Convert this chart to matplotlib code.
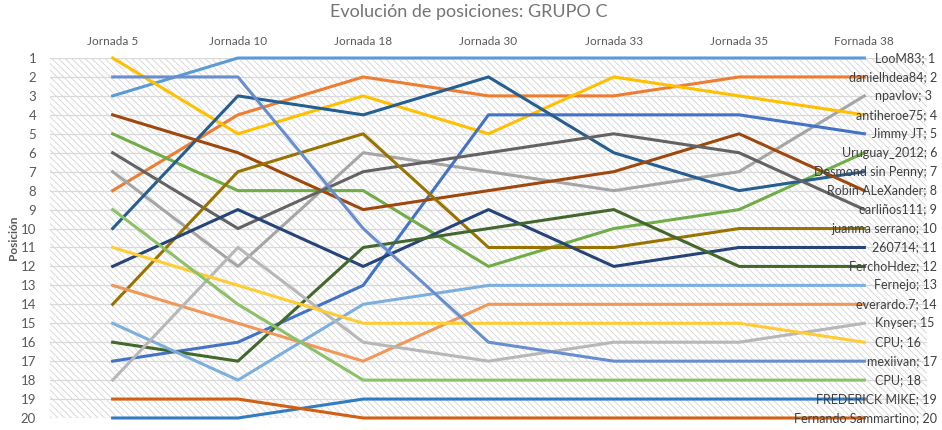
import matplotlib
matplotlib.use("Agg")
import matplotlib.pyplot as plt
import matplotlib.transforms as mtransforms
from matplotlib.patches import Rectangle

plt.rcParams['font.family'] = ['Lato', 'DejaVu Sans']
plt.rcParams['hatch.linewidth'] = 0.6

# ---------- data ----------
jornadas = ["Jornada 5", "Jornada 10", "Jornada 18", "Jornada 30",
            "Jornada 33", "Jornada 35", "Fornada 38"]

players = ["LooM83", "danielhdea84", "npavlov", "antiheroe75", "Jimmy JT",
           "Uruguay_2012", "Desmond sin Penny", "Robin ALeXander", "carliños111",
           "juanma serrano", "260714", "FerchoHdez", "Fernejo", "everardo.7",
           "Knyser", "CPU", "mexiivan", "CPU", "FREDERICK MIKE",
           "Fernando Sammartino"]

positions = [
    [3, 1, 1, 1, 1, 1, 1],
    [8, 4, 2, 3, 3, 2, 2],
    [7, 12, 6, 7, 8, 7, 3],
    [1, 5, 3, 5, 2, 3, 4],
    [17, 16, 13, 4, 4, 4, 5],
    [5, 8, 8, 12, 10, 9, 6],
    [10, 3, 4, 2, 6, 8, 7],
    [4, 6, 9, 8, 7, 5, 8],
    [6, 10, 7, 6, 5, 6, 9],
    [14, 7, 5, 11, 11, 10, 10],
    [12, 9, 12, 9, 12, 11, 11],
    [16, 17, 11, 10, 9, 12, 12],
    [15, 18, 14, 13, 13, 13, 13],
    [13, 15, 17, 14, 14, 14, 14],
    [18, 11, 16, 17, 16, 16, 15],
    [11, 13, 15, 15, 15, 15, 16],
    [2, 2, 10, 16, 17, 17, 17],
    [9, 14, 18, 18, 18, 18, 18],
    [20, 20, 19, 19, 19, 19, 19],
    [19, 19, 20, 20, 20, 20, 20],
]

colors = ["#5B9BD5", "#ED7D31", "#A5A5A5", "#FFC000", "#4472C4", "#70AD47",
          "#255E91", "#9E480E", "#636363", "#997300", "#264478", "#43682B",
          "#7CAFDD", "#F1975A", "#B7B7B7", "#FFCD33", "#698ED0", "#8CC168",
          "#327DC2", "#D26012"]

# ---------- figure ----------
W, H = 942, 430
fig = plt.figure(figsize=(W / 100, H / 100), dpi=100)
ax = fig.add_axes([50 / W, (H - 418) / H, 877 / W, 360 / H])

# hatched plot area background
ax.add_patch(Rectangle((0, 0), 1, 1, transform=ax.transAxes, facecolor="white",
                       edgecolor="#D4D4D4", hatch="\\\\\\\\\\", linewidth=0, zorder=0))

x = list(range(len(jornadas)))
for y in range(1, 21):
    ax.axhline(y, color="#D9D9D9", lw=0.9, zorder=1)

for pos, c in zip(positions, colors):
    ax.plot(x, pos, color=c, lw=2.2, zorder=3, clip_on=False)

ax.set_xlim(-0.5, len(jornadas) - 0.5)
ax.set_ylim(20, 1)
ax.set_yticks(range(1, 21))
ax.tick_params(axis="y", length=0, labelsize=9.5, labelcolor="#595959", pad=10)
ax.xaxis.tick_top()
ax.set_xticks(x)
ax.set_xticklabels(jornadas)
ax.tick_params(axis="x", length=0, labelsize=8.5, labelcolor="#595959", pad=8)
for s in ax.spines.values():
    s.set_visible(False)

ax.set_ylabel("Posición", fontsize=8.5, fontweight="bold", color="#595959")
ax.yaxis.set_label_coords(-31 / 877, 0.5)

fig.text(469 / W, 1 - 12 / H, "Evolución de posiciones: GRUPO C", ha="center",
         va="center", fontsize=13, color="#757575")

# end labels, pushed left when they run past the chart edge
renderer = fig.canvas.get_renderer()
trans = mtransforms.blended_transform_factory(fig.transFigure, ax.transData)
for name, pos in zip(players, positions):
    t = ax.text(875 / W, pos[-1], f"{name}; {pos[-1]}", transform=trans,
                ha="left", va="center", fontsize=9, color="#404040", zorder=4)
    w = t.get_window_extent(renderer).width
    if 875 + w > 937:
        t.set_x((937 - w) / W)

fig.savefig("out.png", dpi=100)
